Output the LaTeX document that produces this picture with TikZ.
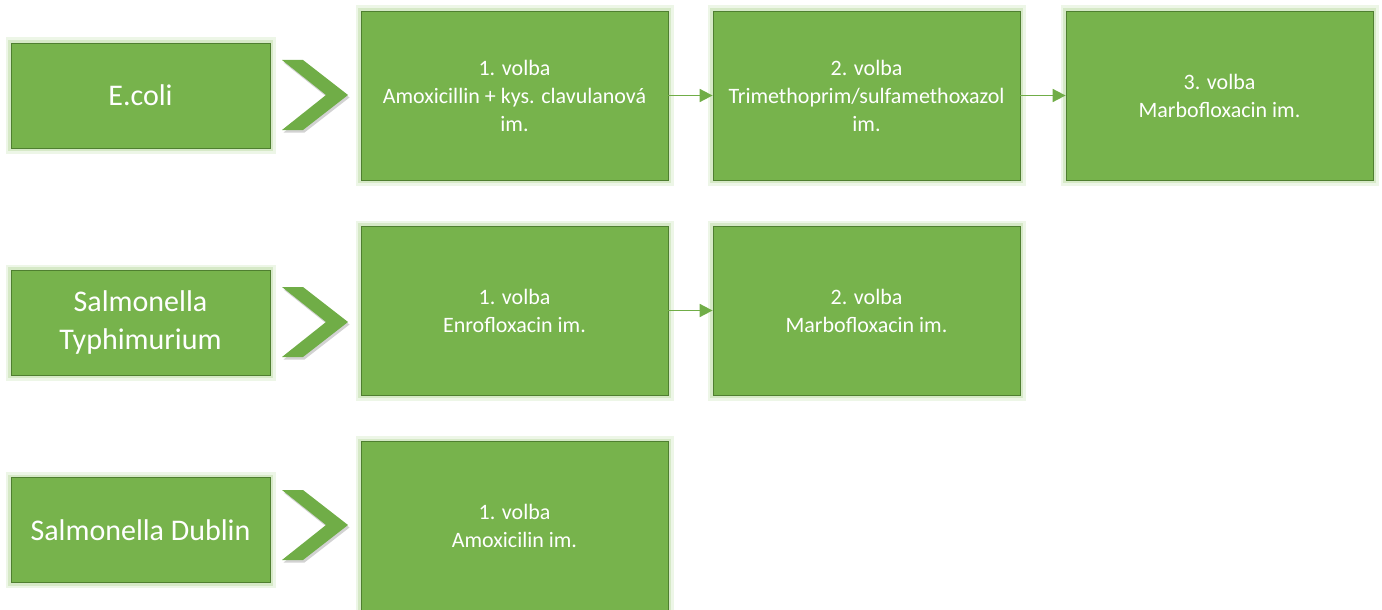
\documentclass[tikz,border=0pt]{standalone}
\usepackage{fontspec}
\setmainfont{Carlito}
\usetikzlibrary{arrows.meta,shadows}

\definecolor{boxgreen}{HTML}{77B34C}
\definecolor{edgegreen}{HTML}{4F7F30}
\definecolor{glowgreen}{HTML}{B9DA9F}
\definecolor{linkgreen}{HTML}{70AD47}

\tikzset{
	glowbox/.style={draw=edgegreen,fill=boxgreen,line width=0.8pt,text=white,align=center,
		preaction={draw=glowgreen,line width=11pt,opacity=0.25},
		preaction={draw=glowgreen,line width=6pt,opacity=0.45}},
	germ/.style={glowbox,minimum width=259pt,minimum height=105pt,font=\fontsize{30}{38}\selectfont},
	drug/.style={glowbox,minimum width=307pt,minimum height=169pt,font=\fontsize{22}{28}\selectfont},
	chevron/.style={fill=linkgreen,drop shadow={shadow xshift=1.5pt,shadow yshift=-2.5pt,opacity=0.25,fill=black!70}},
	link/.style={draw=linkgreen,line width=1.8pt,-{Triangle[length=13pt,width=13pt]}}
}

\begin{document}
\begin{tikzpicture}[x=1pt,y=-1pt]
	\useasboundingbox (0,0) rectangle (1382,610);

	\node[germ] (ecoli) at (140.5,95.5) {E.coli};
	\node[germ] (typhi) at (140.5,322.5) {Salmonella\\Typhimurium};
	\node[germ] (dublin) at (140.5,530) {Salmonella Dublin};

	\foreach \y in {95,322,525}
		\fill[chevron] (282,\y-35) -- (303,\y-35) -- (348,\y) -- (303,\y+35) -- (282,\y+35) -- (326,\y) -- cycle;

	\node[drug] (ecoliA) at (514.5,95.5) {1. volba\\Amoxicillin + kys. clavulanová\\im.};
	\node[drug] (ecoliB) at (866.5,95.5) {2. volba\\Trimethoprim/sulfamethoxazol\\im.};
	\node[drug] (ecoliC) at (1219.5,95.5) {3. volba\\Marbofloxacin im.};

	\node[drug] (typhiA) at (514.5,310.5) {1. volba\\Enrofloxacin im.};
	\node[drug] (typhiB) at (866.5,310.5) {2. volba\\Marbofloxacin im.};

	\node[drug] (dublinA) at (514.5,526) {1. volba\\Amoxicilin im.};

	\draw[link] (ecoliA) -- (ecoliB);
	\draw[link] (ecoliB) -- (ecoliC);
	\draw[link] (typhiA) -- (typhiB);
\end{tikzpicture}
\end{document}
